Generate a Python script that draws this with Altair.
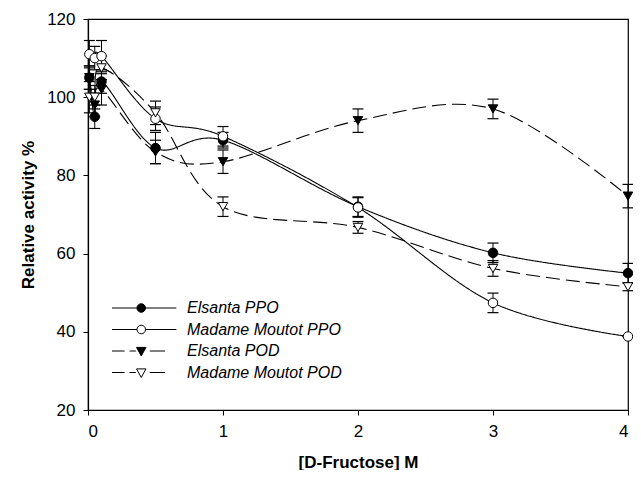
import altair as alt
import pandas as pd

# ---- data ----
series_names = ["Elsanta PPO", "Madame Moutot PPO", "Elsanta POD", "Madame Moutot POD"]
conc = [0.01, 0.05, 0.1, 0.5, 1, 2, 3, 4]

elsanta_ppo = [105, 95, 104, 87, 89, 72, 60.2, 55]
elsanta_ppo_err = [3, 3, 3, 4, 2, 2.5, 2.5, 2.5]

mm_ppo = [111, 110, 110.5, 94.5, 90, 71.8, 47.4, 38.8]
mm_ppo_err = [3.5, 3, 4, 3, 2.5, 2.5, 2.5, 0]

elsanta_pod = [105, 98, 102, 86, 83.5, 94, 97, 74.7]
elsanta_pod_err = [3, 3, 4, 3, 3, 3, 2.5, 3]

mm_pod = [100, 100, 107.5, 96, 72, 66.7, 56.2, 51.5]
mm_pod_err = [4, 3, 3, 3, 2.5, 1.5, 2, 1]

x_ticks = [0, 1, 2, 3, 4]
y_ticks = [20, 40, 60, 80, 100, 120]

values = [elsanta_ppo, mm_ppo, elsanta_pod, mm_pod]
errors = [elsanta_ppo_err, mm_ppo_err, elsanta_pod_err, mm_pod_err]

rows = []
for name, ys, es in zip(series_names, values, errors):
    for i, (x, y, e) in enumerate(zip(conc, ys, es)):
        rows.append({"series": name, "order": i, "conc": x, "act": y,
                     "lo": y - e, "hi": y + e})
df = pd.DataFrame(rows)

FONT = "Liberation Sans"

# legend symbols: line sample + marker, in units of 4.5 px
circ = "M7.45,0A0.95,0.95 0 1,1 5.55,0A0.95,0.95 0 1,1 7.45,0Z"
tri = "M5.45,-0.8L7.55,-0.8L6.5,1.1Z"
solid_line = "M0,0H5.55 M7.45,0H14.3"
dash_line = "M0,0H2.8 M3.9,0H5.3 M8.4,0H11.8"
legend_paths = [solid_line + " " + circ, solid_line + " " + circ,
                dash_line + " " + tri, dash_line + " " + tri]
fill_range = ["black", "white", "black", "white"]
stroke_range = ["black", "black", "black", "black"]

legend = alt.Legend(
    title=None,
    orient="none",
    legendX=16,
    legendY=281,
    labelFont=FONT,
    labelFontSize=16,
    labelFontStyle="italic",
    labelColor="black",
    labelOffset=67,
    symbolSize=81,
    symbolOffset=0,
    symbolStrokeWidth=1,
    symbolOpacity=1,
    rowPadding=5.5,
    padding=0,
)

x_enc = alt.X("conc:Q", scale=alt.Scale(domain=[0, 4], nice=False),
              axis=alt.Axis(values=x_ticks, format="d", title="[D-Fructose] M",
                            titleY=52, titleBaseline="middle"))
y_scale = alt.Scale(domain=[20, 120], nice=False)
y_axis = alt.Axis(values=y_ticks, title="Relative activity %",
                  titleX=-60, titleBaseline="middle")

base = alt.Chart(df)

err_rule = base.mark_rule(color="black", strokeWidth=1).encode(
    x=x_enc, y=alt.Y("lo:Q", scale=y_scale, axis=y_axis), y2="hi:Q")
cap_lo = base.mark_tick(orient="horizontal", size=11, thickness=1.2, color="black",
                        opacity=1).encode(x="conc:Q", y="lo:Q")
cap_hi = base.mark_tick(orient="horizontal", size=11, thickness=1.2, color="black",
                        opacity=1).encode(x="conc:Q", y="hi:Q")

lines = base.mark_line(color="black", strokeWidth=1.1, interpolate="cardinal").encode(
    x="conc:Q",
    y="act:Q",
    order="order:Q",
    detail="series:N",
    strokeDash=alt.StrokeDash("series:N",
                              scale=alt.Scale(domain=series_names,
                                              range=[[1, 0], [1, 0], [14, 6], [14, 6]]),
                              legend=None),
)

points = base.mark_point(filled=True, stroke="black", strokeWidth=1,
                         opacity=1).encode(
    x="conc:Q",
    y="act:Q",
    shape=alt.Shape("series:N",
                    scale=alt.Scale(domain=series_names,
                                    range=["circle", "circle", "triangle-down", "triangle-down"]),
                    legend=None),
    fill=alt.Fill("series:N",
                  scale=alt.Scale(domain=series_names, range=fill_range),
                  legend=None),
    size=alt.Size("series:N",
                  scale=alt.Scale(domain=series_names, range=[90, 90, 100, 100]),
                  legend=None),
)

# legend-only layer (draws no marks; its scales carry the legend)
legend_layer = base.transform_filter("false").mark_point(
    filled=True, size=81, strokeWidth=1, opacity=1).encode(
    x="conc:Q",
    y="act:Q",
    shape=alt.Shape("series:N",
                    scale=alt.Scale(domain=series_names, range=legend_paths),
                    legend=legend),
    fill=alt.Fill("series:N",
                  scale=alt.Scale(domain=series_names, range=fill_range),
                  legend=legend),
    stroke=alt.Stroke("series:N",
                      scale=alt.Scale(domain=series_names, range=stroke_range),
                      legend=legend),
)

chart = alt.layer(err_rule, cap_lo, cap_hi, lines, points, legend_layer).resolve_scale(
    shape="independent", fill="independent", stroke="independent"
).properties(
    width=540, height=391,
    autosize=alt.AutoSizeParams(type="none"),
    padding={"left": 80, "top": 11, "right": 5, "bottom": 60},
    background="white",
).configure_view(
    stroke="black", strokeWidth=1.2
).configure_axis(
    grid=False,
    domainColor="black",
    domainWidth=1.2,
    tickColor="black",
    tickSize=5,
    labelColor="black",
    labelFont=FONT,
    labelFontSize=17,
    labelPadding=8,
    titleColor="black",
    titleFont=FONT,
    titleFontSize=17,
    titleFontWeight="bold",
)

chart.save("out.html", embed_options={"renderer": "svg", "actions": False})
